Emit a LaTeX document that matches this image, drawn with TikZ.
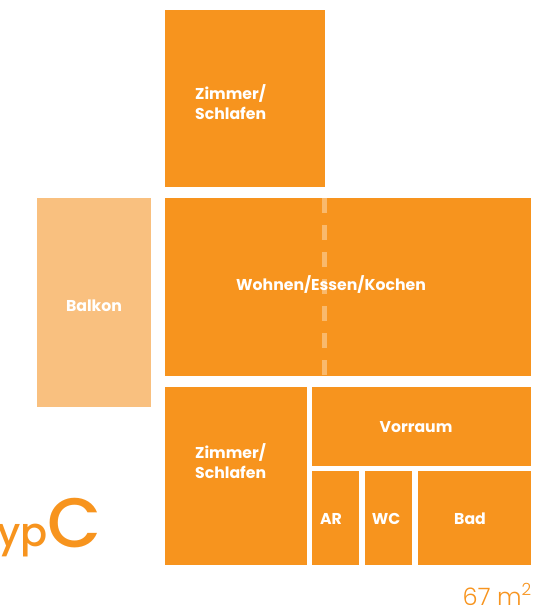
\documentclass[tikz,border=0pt]{standalone}
\usepackage{fontspec}
\setmainfont{Poppins}
\newfontfamily\popbold{Poppins}[UprightFont=* Bold]
\newfontfamily\popmed{Poppins}[UprightFont=* Medium]
\newfontfamily\poplight{Poppins}[UprightFont=* Light]
\definecolor{plorange}{HTML}{F7941E}
\definecolor{pllight}{HTML}{F9C07F}
\tikzset{
  room/.style={fill=plorange, draw=none, inner sep=0pt, anchor=north west},
  balk/.style={fill=pllight, draw=none, inner sep=0pt, anchor=north west},
  lbl/.style={text=white, font=\popbold\fontsize{15.7}{19.5}\selectfont, inner sep=0pt, align=left},
  divider/.style={draw=white, draw opacity=0.35, line width=5pt, dash pattern=on 15pt off 12pt}
}
\begin{document}
\begin{tikzpicture}[x=1pt,y=-1pt]
\useasboundingbox (0,0) rectangle (536,610);
% rooms
\node[room, minimum width=160pt, minimum height=177pt] (z1) at (165,10) {};
\node[balk, minimum width=114pt, minimum height=209pt] (balkon) at (37,198) {};
\node[room, minimum width=366pt, minimum height=178pt] (wohnen) at (165,198) {};
\node[room, minimum width=142pt, minimum height=178pt] (z2) at (165,387) {};
\node[room, minimum width=219pt, minimum height=79pt] (vor) at (312,387) {};
\node[room, minimum width=47pt, minimum height=94pt] (ar) at (312,471) {};
\node[room, minimum width=47pt, minimum height=94pt] (wc) at (365,471) {};
\node[room, minimum width=113pt, minimum height=94pt] (bad) at (418,471) {};
% dashed divider
\coordinate (dtop) at (324,198);
\coordinate (dbot) at (324,376);
\draw[divider] (dtop) -- (dbot);
% labels
\node[lbl, anchor=west] (lz1) at (195,102) {Zimmer/\\Schlafen};
\node[lbl] (lbalkon) at (94,306) {Balkon};
\node[lbl] (lwohnen) at (331,285) {Wohnen/Essen/Kochen};
\node[lbl, anchor=west] (lz2) at (195,461) {Zimmer/\\Schlafen};
\node[lbl] (lvor) at (416,427) {Vorraum};
\node[lbl] (lar) at (331,519) {AR};
\node[lbl] (lwc) at (386,519) {WC};
\node[lbl] (lbad) at (470,519) {Bad};
% title
\node[text=plorange, font=\popmed\fontsize{40}{40}\selectfont, inner sep=0pt, anchor=base east] (typ) at (48,546) {Typ};
\node[text=plorange, font=\popmed\fontsize{70}{70}\selectfont, inner sep=0pt, anchor=base west] (c) at (47,547) {C};
% area
\node[text=plorange, font=\poplight\fontsize{24}{24}\selectfont, inner sep=0pt, anchor=base east] (area) at (532,605) {67 m\textsuperscript{2}};
\end{tikzpicture}
\end{document}
